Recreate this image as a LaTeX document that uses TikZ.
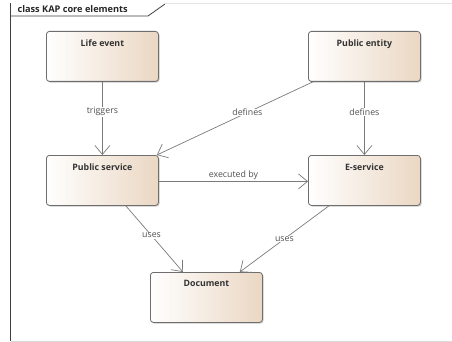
\documentclass[tikz,border=0pt]{standalone}
\usepackage{fontspec}
\setmainfont{Open Sans}
\usetikzlibrary{arrows.meta,shadows}
\definecolor{boxedge}{HTML}{6E6E6E}
\definecolor{boxtan}{HTML}{EBD7C3}
\definecolor{linkgray}{HTML}{7A7A7A}
\definecolor{labelgray}{HTML}{505050}
\tikzset{
  classbox/.style={draw=boxedge, line width=0.8pt, rounded corners=3pt,
    left color=white, right color=boxtan, shading angle=90,
    minimum width=112pt, minimum height=50pt, anchor=north west,
    drop shadow={shadow xshift=1.2pt, shadow yshift=-1.2pt, fill=black!35, opacity=0.6}},
  boxtitle/.style={font=\fontsize{8.8}{10}\selectfont\bfseries, text=black!80},
  link/.style={draw=linkgray, line width=0.7pt,
    -{Straight Barb[length=9pt, width=15pt, line width=0.7pt]}},
  linklabel/.style={font=\fontsize{8.8}{10}\selectfont, text=labelgray, fill=white, inner sep=0.5pt},
  frameline/.style={draw=black!75, line width=0.8pt},
}
\begin{document}
\begin{tikzpicture}[x=1pt, y=-1pt]
\useasboundingbox (0,0) rectangle (452,342);
% diagram frame with its name tab
\draw[frameline] (10.5,3) -- (10.5,341);
\draw[black!15, line width=0.6pt] (10.5,341) -- (452,341);
\draw[black!10, line width=0.5pt] (165,3) -- (452,3);
\draw[frameline] (10.5,16) -- (148,16) -- (165,4);
\node[anchor=west, font=\fontsize{9.2}{10}\selectfont\bfseries, text=black!85] (frametitle) at (14,9.5) {class KAP core elements};

% classes
\node[classbox] (life) at (46,31) {};
\node[boxtitle, anchor=north] (lifet) at ([yshift=-5pt]life.north) {Life event};
\node[classbox] (entity) at (308,31) {};
\node[boxtitle, anchor=north] (entityt) at ([yshift=-5pt]entity.north) {Public entity};
\node[classbox] (pubserv) at (46,155) {};
\node[boxtitle, anchor=north] (pubservt) at ([yshift=-5pt]pubserv.north) {Public service};
\node[classbox] (eserv) at (308,155) {};
\node[boxtitle, anchor=north] (eservt) at ([yshift=-5pt]eserv.north) {E-service};
\node[classbox] (doc) at (150,272) {};
\node[boxtitle, anchor=north] (doct) at ([yshift=-5pt]doc.north) {Document};

% relations
\draw[link] (life.south) -- node[linklabel, pos=0.41] {triggers} (pubserv.north);
\draw[link] (entity.south) -- node[linklabel, pos=0.41] {defines} (eserv.north);
\draw[link] ([xshift=5pt]entity.south west) -- node[linklabel, pos=0.42] {defines} ([xshift=-2pt]pubserv.north east);
\draw[link] ([yshift=-1pt]pubserv.east) -- node[linklabel, above=0.5pt, fill=none, pos=0.5] {executed by} ([yshift=-1pt]eserv.west);
\draw[link] ([xshift=-33pt]pubserv.south east) -- node[linklabel, pos=0.45] {uses} ([xshift=33pt]doc.north west);
\draw[link] ([xshift=21pt]eserv.south west) -- node[linklabel, pos=0.5] {uses} ([xshift=-23pt]doc.north east);
\end{tikzpicture}
\end{document}
